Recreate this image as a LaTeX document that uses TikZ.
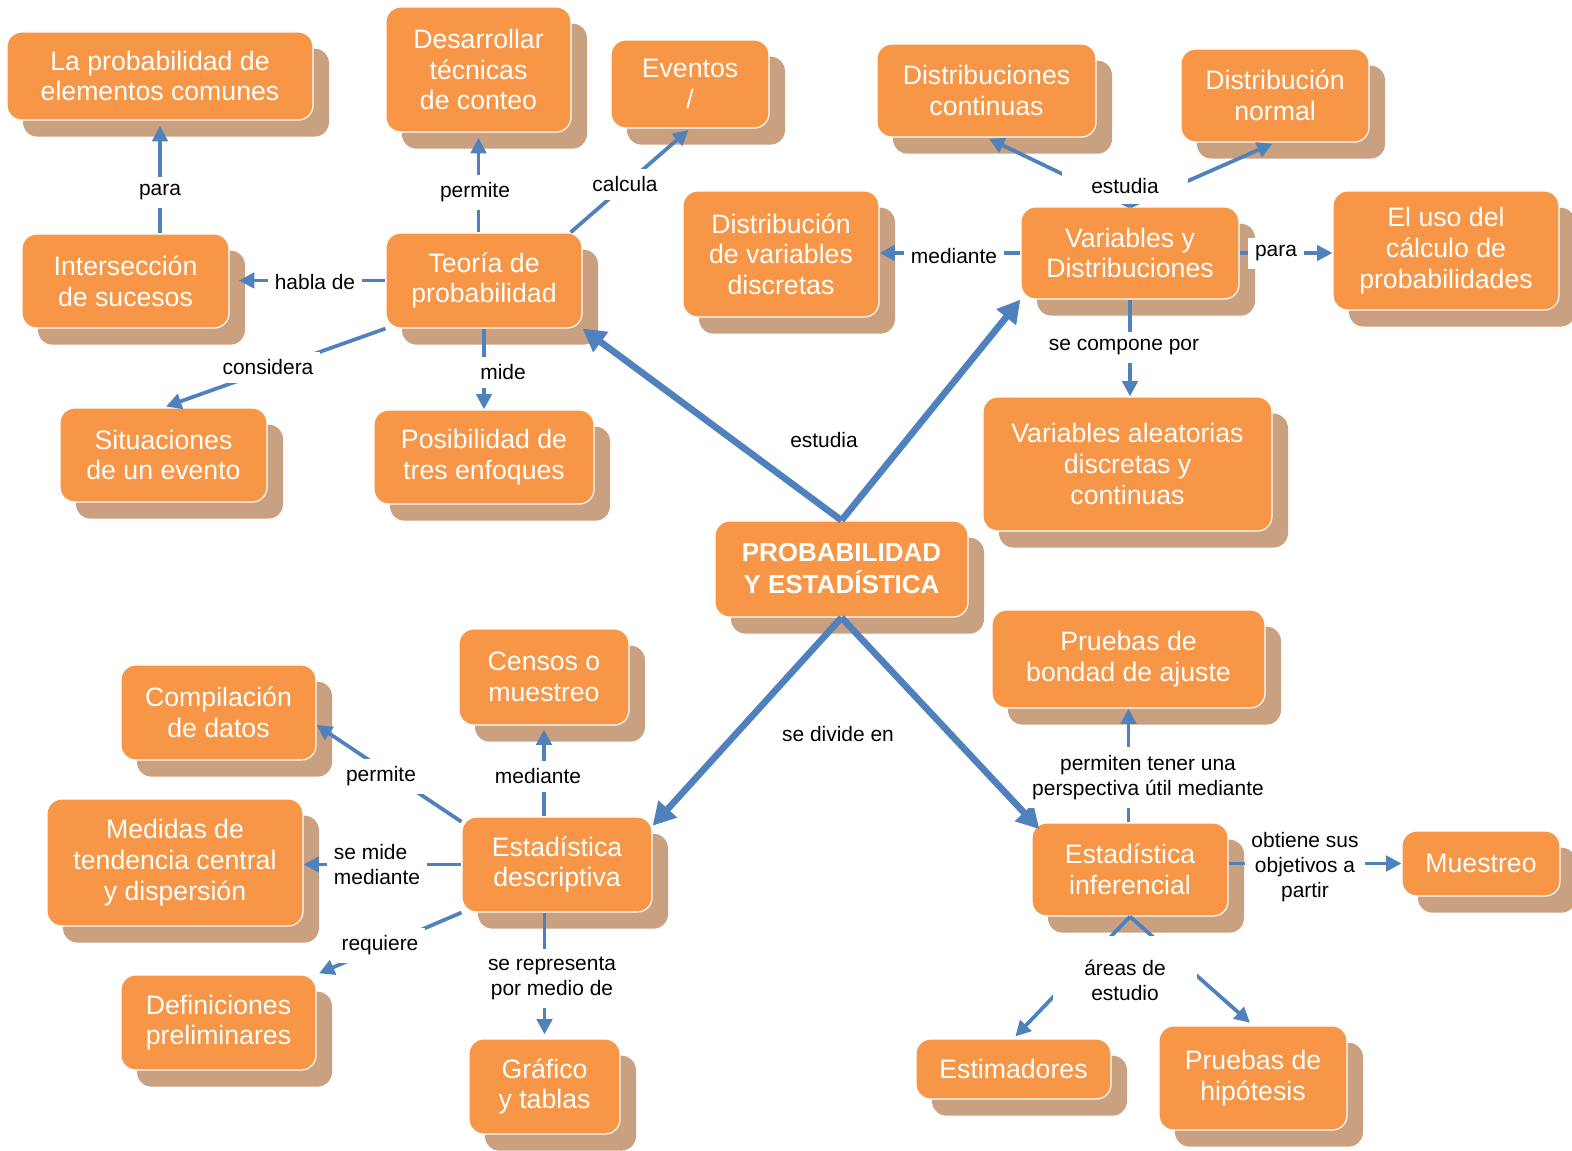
\documentclass[tikz,border=0pt]{standalone}
\usepackage{fontspec}
\setmainfont{Liberation Sans}
\usetikzlibrary{arrows.meta,shadows}
\definecolor{boxorange}{HTML}{F79646}
\definecolor{shadowtan}{HTML}{C9A080}
\definecolor{linkblue}{HTML}{4F81BD}
% \cbox[extra style]{name}{x1}{y1}{x2}{y2}{text}
\newcommand\cbox[7][]{%
  \node[cbox,#1,minimum width={(#5-(#3))*0.75pt},minimum height={(#6-(#4))*0.75pt}]
    (#2) at ({(#3+#5)/2},{(#4+#6)/2}) {#7};}
\begin{document}
\begin{tikzpicture}[x=0.75pt,y=-0.75pt,
  cbox/.style={draw=white,line width=0.9pt,fill=boxorange,rounded corners=11pt,
    text=white,inner sep=0pt,align=center,font=\fontsize{20}{23}\selectfont,
    drop shadow={shadow xshift=12pt,shadow yshift=-12.5pt,fill=shadowtan,opacity=1}},
  lbl/.style={fill=white,inner xsep=5pt,inner ysep=6pt,align=center,yshift=-2.5pt,
    font=\fontsize{15.7}{18.75}\selectfont,text=black},
  thinlink/.style={draw=linkblue,line width=2.8pt,-{Triangle[length=11.5pt,width=11.5pt]}},
  thicklink/.style={draw=linkblue,line width=5pt,-{Triangle[length=17pt,width=18pt]}},
]
\useasboundingbox (0,0) rectangle (1572,1151);

% concept boxes
\cbox{lpb}{7}{32}{313}{120}{La probabilidad de\\elementos comunes}
\cbox{inter}{22}{234}{229}{328}{Intersección\\de sucesos}
\cbox{desar}{386}{7}{571}{132}{Desarrollar\\técnicas\\de conteo}
\cbox{event}{611}{40}{769}{128}{Eventos\\/}
\cbox{teoria}{386}{233}{582}{328}{Teoría de\\probabilidad}
\cbox{dvd}{683}{191}{879}{317}{Distribución\\de variables\\discretas}
\cbox{dc}{877}{44}{1096}{137}{Distribuciones\\continuas}
\cbox{vyd}{1021}{207}{1239}{299}{Variables y\\Distribuciones}
\cbox{dn}{1181}{49}{1369}{142}{Distribución\\normal}
\cbox{uso}{1333}{191}{1559}{310}{El uso del\\cálculo de\\probabilidades}
\cbox[font=\fontsize{19.5}{24}\selectfont\bfseries]{cent}{715}{521}{968}{617}{PROBABILIDAD\\Y ESTADÍSTICA}
\cbox{vad}{983}{397}{1272}{531}{Variables aleatorias\\discretas y\\continuas}
\cbox{situ}{60}{408}{267}{502}{Situaciones\\de un evento}
\cbox{posib}{374}{410}{594}{504}{Posibilidad de\\tres enfoques}
\cbox{bondad}{992}{610}{1265}{708}{Pruebas de\\bondad de ajuste}
\cbox{inf}{1032}{823}{1228}{916}{Estadística\\inferencial}
\cbox{mues}{1402}{831}{1560}{896}{Muestreo}
\cbox{estim}{916}{1039}{1111}{1099}{Estimadores}
\cbox{ph}{1159}{1026}{1347}{1130}{Pruebas de\\hipótesis}
\cbox{censos}{459}{629}{629}{725}{Censos o\\muestreo}
\cbox{desc}{462}{817}{652}{912}{Estadística\\descriptiva}
\cbox{graf}{469}{1039}{620}{1134}{Gráfico\\y tablas}
\cbox{comp}{121}{665}{316}{760}{Compilación\\de datos}
\cbox{med}{47}{799}{303}{926}{Medidas de\\tendencia central\\y dispersión}
\cbox{def}{121}{975}{316}{1070}{Definiciones\\preliminares}

% connectors
\draw[thinlink,shorten >=4pt] (lpb.south |- inter.north) -- (lpb.south);
\draw[thinlink,shorten >=7pt] (teoria.west) -- (teoria.west -| inter.east);
\draw[thinlink,shorten >=4pt] (desar.south |- teoria.north) -- (desar.south);
\draw[thinlink,shorten >=1.5pt] ([xshift=-9pt]teoria.north east) -- (event.south);
\draw[thinlink,shorten >=2pt] (teoria.south west) -- (situ.north);
\draw[thinlink] (teoria.south) -- (posib.north);
\draw[thicklink] (cent.north) -- (teoria.south east);
\draw[thicklink] (cent.north) -- (vyd.south west);
\draw[thicklink] (cent.south) -- ([yshift=-7pt]desc.north east);
\draw[thicklink] (cent.south) -- ([xshift=6pt,yshift=-5pt]inf.north west);
\draw[thinlink] (vyd.west) -- (vyd.west -| dvd.east);
\draw[thinlink] (vyd.east) -- (vyd.east -| uso.west);
\draw[thinlink,shorten >=2pt] (vyd.north) -- (dc.south);
\draw[thinlink,shorten >=2pt] (vyd.north) -- (dn.south);
\draw[thinlink] (vyd.south) -- (vyd.south |- vad.north);
\draw[thinlink,shorten >=3pt] (censos.south |- desc.north) -- (censos.south);
\draw[thinlink] ([yshift=-4pt]desc.north west) -- ([yshift=-9.4pt]comp.east);
\draw[thinlink] (desc.west) -- (desc.west -| med.east);
\draw[thinlink,shorten >=2pt] (desc.south west) -- (def.north east);
\draw[thinlink,shorten >=3pt] (graf.north |- desc.south) -- (graf.north);
\draw[thinlink] (bondad.south |- inf.north) -- (bondad.south);
\draw[thinlink] (inf.east |- mues.west) -- (mues.west);
\draw[thinlink,shorten >=2pt] (inf.south) -- (estim.north);
\draw[thinlink,shorten >=3pt] (inf.south) -- (ph.north);

% link labels
\node[lbl] (l1) at (160,189) {para};
\node[lbl] (l2) at (315,279) {habla de};
\node[lbl] (l3) at (475,189) {permite};
\node[lbl] (l4) at (625,181) {calcula};
\node[lbl] (l5) at (268,364) {considera};
\node[lbl,minimum width=54pt] (l6) at (503,369) {mide};
\node[lbl] (l7) at (824,437) {estudia};
\node[lbl] (l8) at (954,253) {mediante};
\node[lbl] (l9) at (1276,250) {para};
\node[lbl,minimum width=94pt,minimum height=27pt] (l10) at (1125,183) {estudia};
\node[lbl] (l11) at (1124,344) {se compone por};
\node[lbl] (l12) at (838,731) {se divide en};
\node[lbl] (l13) at (538,773) {mediante};
\node[lbl] (l14) at (381,773) {permite};
\node[lbl,align=left] (l15) at (377,861) {se mide\\mediante};
\node[lbl] (l16) at (380,942) {requiere};
\node[lbl] (l17) at (552,975) {se representa\\por medio de};
\node[lbl] (l18) at (1148,774) {permiten tener una\\perspectiva útil mediante};
\node[lbl] (l19) at (1305,864) {obtiene sus\\objetivos a\\partir};
\node[lbl,minimum width=108pt,minimum height=66pt] (l20) at (1125,977) {áreas de\\estudio};
\end{tikzpicture}
\end{document}
